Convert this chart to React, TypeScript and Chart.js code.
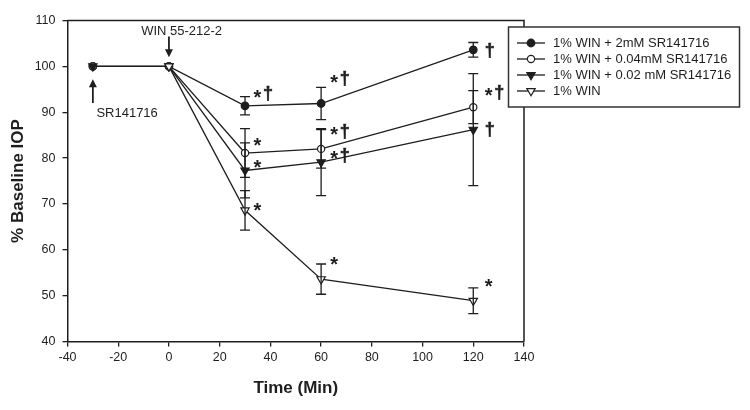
import React, { useEffect, useRef } from 'react';
import { Chart, registerables } from 'chart.js';

Chart.register(...registerables);

// ---------- data ----------
const timePoints = [-30, 0, 30, 60, 120];

const seriesLabels = [
  '1% WIN + 2mM SR141716',
  '1% WIN + 0.04mM SR141716',
  '1% WIN + 0.02 mM SR141716',
  '1% WIN',
];

const win2mM = [100, 100, 91.4, 91.9, 103.6];
const win2mMErr = [0, 0, 2.0, 3.5, 1.6];

const win004mM = [100, 100, 81.1, 82.0, 91.1];
const win004mMErr = [0, 0, 5.3, 4.2, 3.6];

const win002mM = [100, 100, 77.3, 79.1, 86.2];
const win002mMErr = [0, 0, 6.0, 7.3, 12.2];

const winOnly = [null, 100, 68.6, 53.6, 48.9];
const winOnlyErr = [0, 0, 4.3, 3.3, 2.8];

const xTickValues = [-40, -20, 0, 20, 40, 60, 80, 100, 120, 140];
const yTickValues = [40, 50, 60, 70, 80, 90, 100, 110];

// significance marks: x (left edge), y (visual centre) in data units, text
const sigX = [33.3, 33.3, 33.3, 33.3, 63.6, 63.6, 63.6, 63.6, 124.5, 124.5, 124.5, 124.5];
const sigY = [94.0, 83.6, 78.8, 69.4, 97.3, 85.8, 80.6, 57.6, 103.4, 94.3, 86.2, 52.8];
const sigText = ['*†', '*', '*', '*', '*†', '*†', '*†', '*', '†', '*†', '†', '*'];

// drug application annotations
const winLabel = 'WIN 55-212-2';
const winLabelPos = [5, 107.6];
const winArrow = [0, 106.5, 102.0]; // x, tail y, head y
const srLabel = 'SR141716';
const srLabelPos = [-16.5, 89.7];
const srArrow = [-30, 92.0, 97.2];

// ---------- styles ----------
const INK = '#1e1e1e';
const FONT = '"Liberation Sans", Arial, sans-serif';

type PStyle = { style: 'circle' | 'triangle'; fill: boolean; radius: number; rot: number };
const pointStyles: PStyle[] = [
  { style: 'circle', fill: true, radius: 3.8, rot: 0 },
  { style: 'circle', fill: false, radius: 3.6, rot: 0 },
  { style: 'triangle', fill: true, radius: 4.8, rot: 180 },
  { style: 'triangle', fill: false, radius: 4.8, rot: 180 },
];
const seriesValues = [win2mM, win004mM, win002mM, winOnly];
const seriesErrors = [win2mMErr, win004mMErr, win002mMErr, winOnlyErr];

function drawMarker(ctx: CanvasRenderingContext2D, x: number, y: number, p: PStyle) {
  ctx.save();
  ctx.beginPath();
  if (p.style === 'circle') {
    ctx.arc(x, y, p.radius, 0, Math.PI * 2);
  } else {
    let rad = (p.rot * Math.PI) / 180;
    for (let i = 0; i < 3; i++) {
      const px = x + Math.sin(rad) * p.radius;
      const py = y - Math.cos(rad) * p.radius;
      if (i === 0) ctx.moveTo(px, py);
      else ctx.lineTo(px, py);
      rad += (2 * Math.PI) / 3;
    }
    ctx.closePath();
  }
  ctx.fillStyle = p.fill ? INK : '#ffffff';
  ctx.fill();
  ctx.lineWidth = 1.2;
  ctx.strokeStyle = INK;
  ctx.stroke();
  ctx.restore();
}

function drawArrow(ctx: CanvasRenderingContext2D, x: number, yTail: number, yHead: number) {
  const dir = yHead > yTail ? 1 : -1;
  ctx.save();
  ctx.strokeStyle = INK;
  ctx.fillStyle = INK;
  ctx.lineWidth = 1.8;
  ctx.beginPath();
  ctx.moveTo(x, yTail);
  ctx.lineTo(x, yHead - dir * 5);
  ctx.stroke();
  ctx.beginPath();
  ctx.moveTo(x, yHead);
  ctx.lineTo(x - 4, yHead - dir * 8);
  ctx.lineTo(x + 4, yHead - dir * 8);
  ctx.closePath();
  ctx.fill();
  ctx.restore();
}

function drawCentredGlyph(ctx: CanvasRenderingContext2D, ch: string, x: number, yc: number) {
  const m = ctx.measureText(ch);
  const asc = m.actualBoundingBoxAscent;
  const desc = m.actualBoundingBoxDescent;
  ctx.fillText(ch, x, yc + (asc - desc) / 2);
}

const overlayPlugin = {
  id: 'overlay',
  afterDatasetsDraw(chart: any) {
    const { ctx, scales } = chart;
    const xs = scales.x;
    const ys = scales.y;
    ctx.save();
    // error bars
    ctx.strokeStyle = INK;
    ctx.lineWidth = 1.3;
    seriesValues.forEach((vals, si) => {
      const errs = seriesErrors[si];
      vals.forEach((v, i) => {
        if (v === null || !errs[i]) return;
        const px = xs.getPixelForValue(timePoints[i]);
        const top = ys.getPixelForValue(v + errs[i]);
        const bot = ys.getPixelForValue(v - errs[i]);
        ctx.beginPath();
        ctx.moveTo(px, top);
        ctx.lineTo(px, bot);
        ctx.moveTo(px - 5, top);
        ctx.lineTo(px + 5, top);
        ctx.moveTo(px - 5, bot);
        ctx.lineTo(px + 5, bot);
        ctx.stroke();
      });
    });
    // significance marks
    ctx.fillStyle = INK;
    ctx.strokeStyle = INK;
    ctx.textAlign = 'left';
    ctx.textBaseline = 'alphabetic';
    sigText.forEach((t, i) => {
      let px = xs.getPixelForValue(sigX[i]);
      const py = ys.getPixelForValue(sigY[i]);
      for (const ch of t) {
        if (ch === '*') {
          ctx.font = `bold 20px ${FONT}`;
          drawCentredGlyph(ctx, ch, px, py);
          px += 9.5;
        } else {
          ctx.font = `bold 18px ${FONT}`;
          ctx.lineWidth = 0.6;
          const m = ctx.measureText(ch);
          const yb = py + (m.actualBoundingBoxAscent - m.actualBoundingBoxDescent) / 2;
          ctx.fillText(ch, px, yb);
          ctx.strokeText(ch, px, yb);
          px += 9;
        }
      }
    });
    // drug annotations
    ctx.font = `13px ${FONT}`;
    ctx.textAlign = 'center';
    ctx.textBaseline = 'middle';
    ctx.fillText(winLabel, xs.getPixelForValue(winLabelPos[0]), ys.getPixelForValue(winLabelPos[1]));
    ctx.fillText(srLabel, xs.getPixelForValue(srLabelPos[0]), ys.getPixelForValue(srLabelPos[1]));
    drawArrow(ctx, xs.getPixelForValue(winArrow[0]), ys.getPixelForValue(winArrow[1]), ys.getPixelForValue(winArrow[2]));
    drawArrow(ctx, xs.getPixelForValue(srArrow[0]), ys.getPixelForValue(srArrow[1]), ys.getPixelForValue(srArrow[2]));
    ctx.restore();
  },
  afterDraw(chart: any) {
    const { ctx, chartArea } = chart;
    ctx.save();
    // frame top and right
    ctx.strokeStyle = INK;
    ctx.lineWidth = 1.5;
    ctx.beginPath();
    ctx.moveTo(chartArea.left, chartArea.top);
    ctx.lineTo(chartArea.right, chartArea.top);
    ctx.lineTo(chartArea.right, chartArea.bottom);
    ctx.stroke();
    // legend box
    const lx = 508.5, ly = 27, lw = 231, lh = 80;
    ctx.fillStyle = '#ffffff';
    ctx.fillRect(lx, ly, lw, lh);
    ctx.strokeStyle = '#333';
    ctx.lineWidth = 1.5;
    ctx.strokeRect(lx, ly, lw, lh);
    ctx.font = `13px ${FONT}`;
    ctx.textAlign = 'left';
    ctx.textBaseline = 'middle';
    seriesLabels.forEach((label, i) => {
      const ry = ly + 16 + i * 16;
      ctx.strokeStyle = INK;
      ctx.lineWidth = 1.3;
      ctx.beginPath();
      ctx.moveTo(517, ry);
      ctx.lineTo(545, ry);
      ctx.stroke();
      drawMarker(ctx, 531, ry, pointStyles[i]);
      ctx.fillStyle = INK;
      ctx.fillText(label, 553, ry + 0.5);
    });
    ctx.restore();
  },
};

export default function App() {
  const ref = useRef<HTMLCanvasElement | null>(null);
  useEffect(() => {
    document.body.style.margin = '0';
    const canvas = ref.current;
    if (!canvas) return;
    const order = [3, 2, 1, 0];
    const datasets = seriesLabels.map((label, si) => {
      const p = pointStyles[si];
      return {
        label,
        data: timePoints.map((t, i) => ({ x: t, y: seriesValues[si][i] })),
        borderColor: INK,
        borderWidth: 1.3,
        pointStyle: p.style,
        pointRadius: p.radius,
        pointRotation: p.rot,
        pointBackgroundColor: p.fill ? INK : '#ffffff',
        pointBorderColor: INK,
        pointBorderWidth: 1.2,
        fill: false,
        tension: 0,
        spanGaps: false,
        order: order[si],
      };
    });
    const chart = new Chart(canvas, {
      type: 'line',
      data: { datasets: datasets as any },
      options: {
        animation: false,
        responsive: false,
        devicePixelRatio: 1,
        layout: { padding: { top: 20.5, right: 226, bottom: 0, left: 0 } },
        plugins: { legend: { display: false }, tooltip: { enabled: false } },
        scales: {
          x: {
            type: 'linear',
            min: -40,
            max: 140,
            afterBuildTicks: (s: any) => {
              s.ticks = xTickValues.map((v) => ({ value: v }));
            },
            afterFit: (s: any) => {
              s.height = 68.5;
            },
            ticks: { color: INK, font: { family: FONT, size: 12.5 }, padding: 4, maxRotation: 0, autoSkip: false },
            grid: { drawOnChartArea: false, drawTicks: true, tickLength: 5, color: INK, lineWidth: 1.3 },
            border: { display: true, color: INK, width: 1.5 },
            title: {
              display: true,
              text: 'Time (Min)',
              color: INK,
              font: { family: FONT, size: 17, weight: 'bold' },
              padding: { top: 0, bottom: 11 },
            },
          },
          y: {
            type: 'linear',
            min: 40,
            max: 110,
            afterBuildTicks: (s: any) => {
              s.ticks = yTickValues.map((v) => ({ value: v }));
            },
            afterFit: (s: any) => {
              s.width = 67.5;
            },
            ticks: { color: INK, font: { family: FONT, size: 12.5 }, padding: 7, autoSkip: false },
            grid: { drawOnChartArea: false, drawTicks: true, tickLength: 5, color: INK, lineWidth: 1.3 },
            border: { display: true, color: INK, width: 1.5 },
            title: {
              display: true,
              text: '% Baseline IOP',
              color: INK,
              font: { family: FONT, size: 17, weight: 'bold' },
              padding: { top: 8, bottom: 0 },
            },
          },
        },
      },
      plugins: [overlayPlugin],
    });
    return () => chart.destroy();
  }, []);
  return (
    <div style={{ width: 750, height: 410 }}>
      <canvas ref={ref} width={750} height={410} style={{ width: 750, height: 410, display: 'block' }} />
    </div>
  );
}
